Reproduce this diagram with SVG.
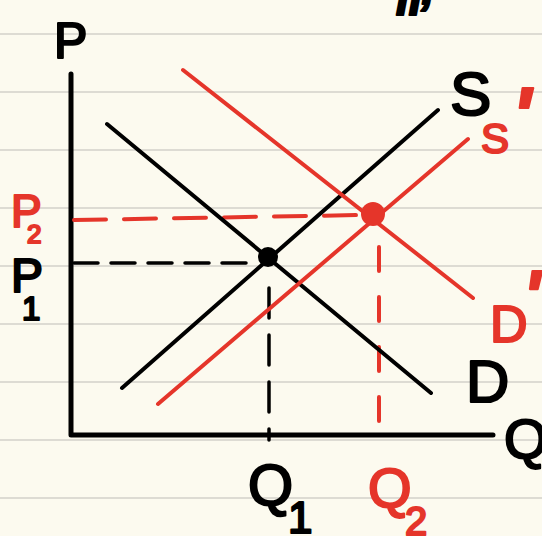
<svg xmlns="http://www.w3.org/2000/svg" width="542" height="536" viewBox="0 0 542 536">
<style>
.rule{stroke:#dddbd3;stroke-width:2}
.ax{stroke:#000;stroke-width:5;fill:none;stroke-linecap:round;stroke-linejoin:round}
.bk{stroke:#000;stroke-width:4;stroke-linecap:round;fill:none}
.rd{stroke:#e5352a;stroke-width:4;stroke-linecap:round;fill:none}
.bkd{stroke:#000;stroke-width:3.5;stroke-linecap:round;fill:none}
.rdd{stroke:#e5352a;stroke-width:4;stroke-linecap:round;fill:none}
.t{font-family:"Liberation Sans",Arial,sans-serif;stroke-width:2.2;stroke-linejoin:round}
.tb{fill:#000;stroke:#000}
.tr{fill:#e5352a;stroke:#e5352a}
.ap{font-weight:bold;font-style:italic}
</style>
<rect width="542" height="536" fill="#fcfaef"/>
<g id="paper-lines">
<line class="rule" x1="0" y1="34" x2="542" y2="34"/>
<line class="rule" x1="0" y1="92" x2="542" y2="92"/>
<line class="rule" x1="0" y1="150" x2="542" y2="150"/>
<line class="rule" x1="0" y1="208" x2="542" y2="208"/>
<line class="rule" x1="0" y1="266" x2="542" y2="266"/>
<line class="rule" x1="0" y1="324" x2="542" y2="324"/>
<line class="rule" x1="0" y1="382" x2="542" y2="382"/>
<line class="rule" x1="0" y1="440" x2="542" y2="440"/>
<line class="rule" x1="0" y1="498" x2="542" y2="498"/>
</g>
<text class="t tb" x="396" y="15" font-size="46" font-weight="bold" font-style="italic">ii<tspan dy="-11">,</tspan></text>
<g id="axes">
<path class="ax" d="M71 74 L71 435 L493 435"/>
<text class="t tb" x="54" y="58" font-size="50">P</text>
<text class="t tb" x="504" y="458" font-size="56">Q</text>
</g>
<g id="connectors">
<line class="bkd" x1="74" y1="263" x2="258" y2="263" stroke-dasharray="24 13"/>
<line class="bkd" x1="269" y1="288" x2="269" y2="440" stroke-dasharray="30 17"/>
<line class="rdd" x1="74" y1="220" x2="362" y2="215" stroke-dasharray="32 18"/>
<line class="rdd" x1="379" y1="247" x2="379" y2="443" stroke-dasharray="24 26"/>
</g>
<g id="curve-D">
<line class="bk" x1="107" y1="124" x2="431" y2="393"/>
<text class="t tb" x="466" y="402" font-size="60">D</text>
</g>
<g id="curve-S">
<line class="bk" x1="122" y1="388" x2="438" y2="110"/>
<text class="t tb" x="450" y="115" font-size="62">S</text>
</g>
<g id="curve-D-prime">
<line class="rd" x1="183" y1="70" x2="473" y2="298"/>
<text class="t tr" x="490" y="342" font-size="52">D<tspan class="ap" x="523" y="321" font-size="72">'</tspan></text>
</g>
<g id="curve-S-prime">
<line class="rd" x1="158" y1="404" x2="468" y2="139"/>
<text class="t tr" x="481" y="153" font-size="42">S<tspan class="ap" x="512" y="143" font-size="80">'</tspan></text>
</g>
<g id="eq1">
<circle cx="268" cy="257" r="10" fill="#000"/>
</g>
<g id="eq2">
<circle cx="373" cy="214" r="12" fill="#e5352a"/>
</g>
<g id="label-P2">
<text class="t tr" x="11" y="227" font-size="46">P<tspan x="27" y="243" font-size="26">2</tspan></text>
</g>
<g id="label-P1">
<text class="t tb" x="11" y="292" font-size="48">P<tspan x="22" y="320" font-size="33">1</tspan></text>
</g>
<g id="label-Q1">
<text class="t tb" x="248" y="505" font-size="58">Q<tspan x="288" y="533" font-size="44">1</tspan></text>
</g>
<g id="label-Q2">
<text class="t tr" x="368" y="507" font-size="56">Q<tspan x="405" y="535" font-size="40">2</tspan></text>
</g>
</svg>
